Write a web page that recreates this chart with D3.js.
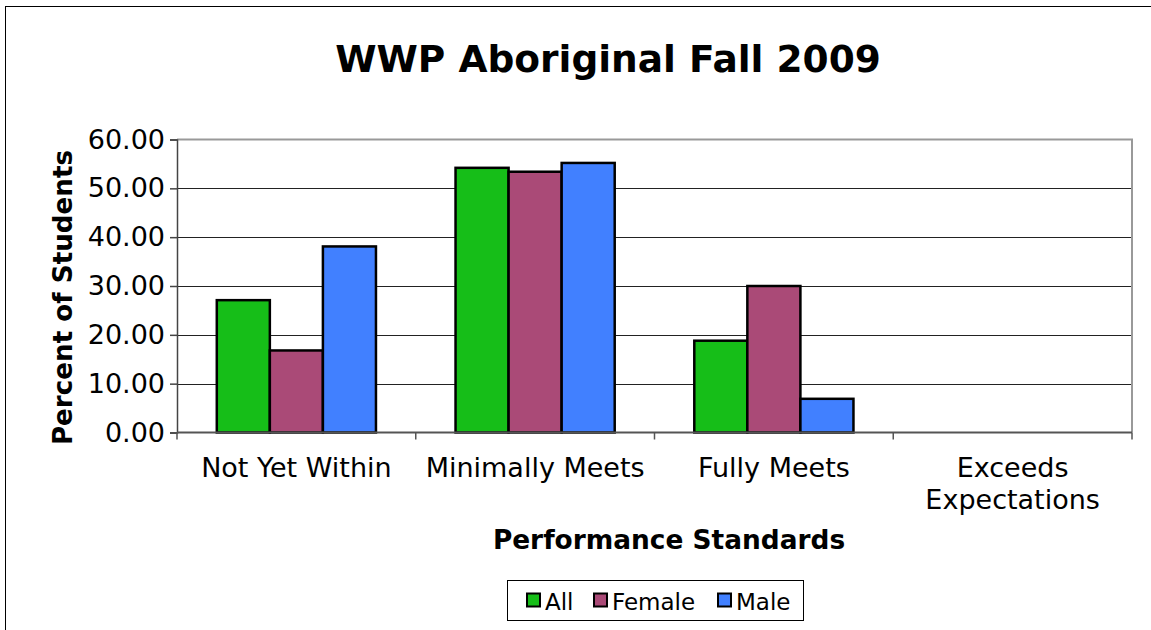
<!DOCTYPE html>
<html>
<head>
<meta charset="utf-8">
<script src="https://cdn.jsdelivr.net/npm/d3@7"></script>
<style>
  body { margin: 0; background: #fff; }
  svg { display: block; font-family: "DejaVu Sans", Verdana, sans-serif; }
</style>
</head>
<body>
<svg class="main-svg" width="1151" height="630"></svg>
<script>
const categories = [["Not Yet Within"], ["Minimally Meets"], ["Fully Meets"], ["Exceeds", "Expectations"]];
const seriesNames = ["All", "Female", "Male"];
const seriesColors = ["#16be18", "#aa4a77", "#4180ff"];
const allValues = [27.1, 54.2, 18.8, 0];
const femaleValues = [16.8, 53.4, 30.0, 0];
const maleValues = [38.1, 55.2, 6.9, 0];
const yTicks = [0, 10, 20, 30, 40, 50, 60];

const series = [allValues, femaleValues, maleValues];

const svg = d3.select(".main-svg");
const plotLeft = 177, plotRight = 1132, plotTop = 139.5, plotBottom = 432.5;

// outer chart border (runs off the page)
svg.append("rect")
  .attr("x", 5.5).attr("y", 6.5)
  .attr("width", 1200).attr("height", 700)
  .attr("fill", "none").attr("stroke", "#000").attr("stroke-width", 1);

const x = d3.scaleBand()
  .domain(d3.range(categories.length))
  .range([plotLeft, plotRight])
  .padding(0);

const y = d3.scaleLinear().domain([0, 60]).range([plotBottom, plotTop]);

const bw = x.bandwidth();
const barW = bw * 2 / 9;
const groupOff = bw / 6;

// gridlines
svg.append("g")
  .selectAll("line")
  .data(yTicks.filter(d => d > 0 && d < 60))
  .join("line")
    .attr("x1", plotLeft).attr("x2", plotRight)
    .attr("y1", d => Math.round(y(d)) + 0.5)
    .attr("y2", d => Math.round(y(d)) + 0.5)
    .attr("stroke", "#222").attr("stroke-width", 1.2);

// plot frame top/right
svg.append("path")
  .attr("d", `M${plotLeft},${plotTop} H${plotRight} V${plotBottom}`)
  .attr("fill", "none").attr("stroke", "#999").attr("stroke-width", 2);

// bars
svg.append("g")
  .selectAll("g")
  .data(series)
  .join("g")
    .attr("fill", (d, i) => seriesColors[i])
  .selectAll("rect")
  .data((d, i) => d.map((v, j) => ({ v, j, i })).filter(e => e.v > 0))
  .join("rect")
    .attr("x", d => x(d.j) + groupOff + d.i * barW)
    .attr("y", d => y(d.v))
    .attr("width", barW)
    .attr("height", d => y(0) - y(d.v))
    .attr("stroke", "#000")
    .attr("stroke-width", 2.5);

// y axis
const yAxis = svg.append("g")
  .attr("transform", `translate(${plotLeft},0)`)
  .call(d3.axisLeft(y).tickValues(yTicks).tickFormat(d3.format(".2f")).tickSize(7).tickPadding(5));
yAxis.select(".domain").attr("stroke", "#444").attr("stroke-width", 1.5);
yAxis.selectAll(".tick line").attr("stroke", "#444").attr("stroke-width", 1.5);
yAxis.selectAll("text")
  .attr("font-size", 27).attr("fill", "#000")
  .attr("font-family", "DejaVu Sans, Verdana, sans-serif");

// x axis baseline + ticks
svg.append("line")
  .attr("x1", plotLeft).attr("x2", plotRight)
  .attr("y1", plotBottom).attr("y2", plotBottom)
  .attr("stroke", "#555").attr("stroke-width", 2);
svg.append("g")
  .selectAll("line")
  .data(d3.range(categories.length + 1))
  .join("line")
    .attr("x1", d => d < categories.length ? x(d) : plotRight)
    .attr("x2", d => d < categories.length ? x(d) : plotRight)
    .attr("y1", plotBottom).attr("y2", plotBottom + 7)
    .attr("stroke", "#555").attr("stroke-width", 1.5);

// x labels
svg.append("g")
  .selectAll("text")
  .data(categories)
  .join("text")
    .attr("x", (d, i) => x(i) + bw / 2)
    .attr("y", 477)
    .attr("text-anchor", "middle")
    .attr("font-size", 27)
    .selectAll("tspan")
    .data(d => d)
    .join("tspan")
      .attr("x", function () { return this.parentNode.getAttribute("x"); })
      .attr("dy", (d, i) => i === 0 ? 0 : 32)
      .text(d => d);

// titles
svg.append("text")
  .attr("x", 608).attr("y", 72)
  .attr("text-anchor", "middle")
  .attr("font-size", 37.5).attr("font-weight", "bold")
  .text("WWP Aboriginal Fall 2009");

svg.append("text")
  .attr("x", 669).attr("y", 549)
  .attr("text-anchor", "middle")
  .attr("font-size", 26.4).attr("font-weight", "bold")
  .text("Performance Standards");

svg.append("text")
  .attr("transform", `translate(72,297.5) rotate(-90)`)
  .attr("text-anchor", "middle")
  .attr("font-size", 26.2).attr("font-weight", "bold")
  .text("Percent of Students");

// legend
const legend = svg.append("g");
legend.append("rect")
  .attr("x", 507.5).attr("y", 580.5)
  .attr("width", 296).attr("height", 40)
  .attr("fill", "#fff").attr("stroke", "#000").attr("stroke-width", 1);
const legX = [527, 594, 718];
const item = legend.selectAll("g.item")
  .data(seriesNames)
  .join("g")
    .attr("class", "item")
    .attr("transform", (d, i) => `translate(${legX[i]},600)`);
item.append("rect")
  .attr("x", 0).attr("y", -6.5)
  .attr("width", 13).attr("height", 13)
  .attr("fill", (d, i) => seriesColors[i])
  .attr("stroke", "#000").attr("stroke-width", 2);
item.append("text")
  .attr("x", 18).attr("y", 10)
  .attr("font-size", 23)
  .text(d => d);
</script>
</body>
</html>
